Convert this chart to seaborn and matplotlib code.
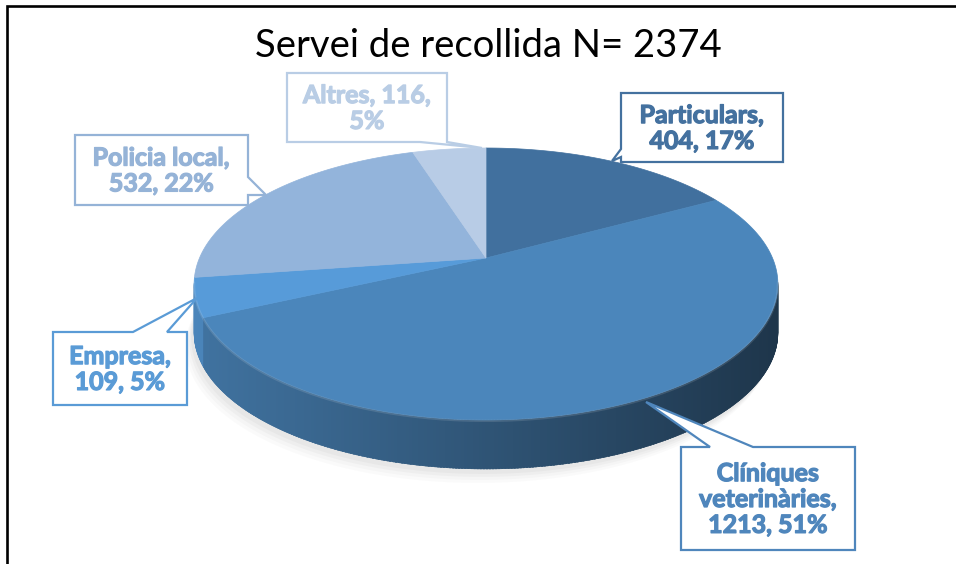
import numpy as np
import matplotlib
matplotlib.use("Agg")
import matplotlib.pyplot as plt
import matplotlib.patheffects as pe
import seaborn as sns
from matplotlib.patches import Polygon

# ---------------- data ----------------
title = "Servei de recollida N= 2374"
categories = ["Particulars", "Clíniques\nveterinàries", "Empresa", "Policia local", "Altres"]
values = [404, 1213, 109, 532, 116]
sep_name = ["\n", "\n", "\n", "\n", " "]
sep_pct = [" ", " ", " ", " ", "\n"]

top_colors = ["#41709e", "#4b86bb", "#579bd9", "#93b4db", "#b8cce6"]
text_colors = ["#44719f", "#4f86bc", "#5a9bd6", "#95b3d7", "#b9cde5"]

# ---------------- style ----------------
sns.set_theme(style="white")
plt.rcParams['font.family'] = ['Lato', 'DejaVu Sans']

fig = plt.figure(figsize=(9.56, 5.64), dpi=100)
ax = fig.add_axes([0, 0, 1, 1])
ax.set_xlim(0, 956)
ax.set_ylim(564, 0)
ax.axis('off')

# perspective projected pie geometry (pixel space)
CX, CY, A, B, K, D = 486, 258, 286.5, 131, 0.191, 49


def proj(phi_deg, dz=0.0):
    p = np.radians(phi_deg)
    u, v = np.cos(p), np.sin(p)
    den = 1 + K * v
    return CX + A * u / den, CY - B * v / den + dz


total = sum(values)
bounds = 90 - 360 * np.concatenate([[0], np.cumsum(values)]) / total


def rgb(h):
    h = h.lstrip('#')
    return np.array([int(h[i:i + 2], 16) for i in (0, 2, 4)]) / 255.0


# ---- soft shadow under the pie ----
for off, alpha in [(14, 0.03), (11, 0.04), (8, 0.05), (5, 0.06)]:
    ph = np.linspace(-180, 0, 200)
    xs, ys = proj(ph, D + off)
    xs2, ys2 = proj(ph[::-1], D - 30)
    pts = np.column_stack([np.concatenate([xs - off * 0.6, xs2]),
                           np.concatenate([ys, ys2])])
    ax.add_patch(Polygon(pts, closed=True, fc="#7f7f7f", ec="none", alpha=alpha, zorder=1))

# ---- side of the pie (front, shaded strips) ----
xmin, xmax = CX - 292, CX + 292
step = 0.5
for phi in np.arange(-169.5, -10.5, step):
    mid = phi + step / 2
    idx = int(np.searchsorted(-bounds, -mid) - 1)
    idx = min(max(idx, 0), len(values) - 1)
    x1, y1 = proj(phi)
    x2, y2 = proj(phi + step + 0.3)
    xm = (x1 + x2) / 2
    t = (xm - xmin) / (xmax - xmin)
    f = 0.86 - 0.46 * t
    col = np.clip(rgb(top_colors[idx]) * f, 0, 1)
    pts = [(x1, y1), (x2, y2), (x2, y2 + D), (x1, y1 + D)]
    ax.add_patch(Polygon(pts, closed=True, fc=col, ec=col, lw=0.4, zorder=2))

# ---- top faces ----
for i in range(len(values)):
    ph = np.linspace(bounds[i], bounds[i + 1], 200)
    xs, ys = proj(ph)
    pts = np.column_stack([np.concatenate([[CX], xs]), np.concatenate([[CY], ys])])
    ax.add_patch(Polygon(pts, closed=True, fc=top_colors[i], ec=top_colors[i], lw=0.5, zorder=3))

# subtle rim highlight along front edge
ph = np.linspace(-170, -10, 300)
xs, ys = proj(ph)
ax.plot(xs, ys + 1, color="white", alpha=0.12, lw=1.6, zorder=4, solid_capstyle='round')

# ---- callout labels ----
callouts = [
    ((621, 93, 783, 162), [(621, 93), (783, 93), (783, 162), (621, 162), (621, 157), (612, 161), (621, 149)]),
    ((681, 447, 855, 550), [(681, 447), (710, 447), (646, 402), (753, 447), (855, 447), (855, 550), (681, 550)]),
    ((53, 332, 187, 405), [(53, 332), (133, 332), (197, 298), (167, 332), (187, 332), (187, 405), (53, 405)]),
    ((75, 135, 248, 205), [(75, 135), (248, 135), (248, 177), (266, 195), (248, 195), (248, 205), (75, 205)]),
    ((287, 73, 447, 142), [(287, 73), (447, 73), (447, 142), (482, 148), (420, 142), (287, 142)]),
]

for i, (box, verts) in enumerate(callouts):
    ax.add_patch(Polygon(verts, closed=True, fc="white", ec=text_colors[i], lw=1.6,
                         zorder=6, joinstyle='miter'))
    pct = int(round(values[i] * 100 / total))
    label = f"{categories[i]},{sep_name[i]}{values[i]},{sep_pct[i]}{pct}%"
    x0, y0, x1, y1 = box
    ax.text((x0 + x1) / 2, (y0 + y1) / 2 + 1, label, ha="center", va="center",
            fontsize=18, fontweight="bold", color=text_colors[i], linespacing=1.15, zorder=7,
            path_effects=[pe.withStroke(linewidth=0.9, foreground=text_colors[i])])

# ---- title ----
ax.text(488, 46, title, ha="center", va="center", fontsize=27.5, color="black", zorder=7)

# ---- outer frame ----
ax.plot([7, 7, 956], [564, 6, 6], color="black", lw=1.9, zorder=8, solid_joinstyle='miter')

fig.savefig("out.png", dpi=100, facecolor="white")
